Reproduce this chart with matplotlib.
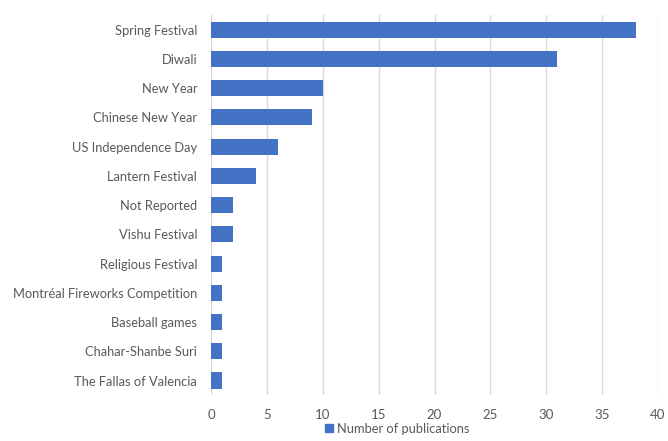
import matplotlib.pyplot as plt
from matplotlib.patches import Patch

events = ['Spring Festival', 'Diwali', 'New Year', 'Chinese New Year',
          'US Independence Day', 'Lantern Festival', 'Not Reported',
          'Vishu Festival', 'Religious Festival',
          'Montréal Fireworks Competition', 'Baseball games',
          'Chahar-Shanbe Suri', 'The Fallas of Valencia']
publications = [38, 31, 10, 9, 6, 4, 2, 2, 1, 1, 1, 1, 1]
xticks = [0, 5, 10, 15, 20, 25, 30, 35, 40]

plt.rcParams['font.family'] = ['Lato', 'DejaVu Sans']
txt = '#595959'
bar_color = '#4472C4'

fig = plt.figure(figsize=(6.68, 4.41), dpi=100)
ax = fig.add_axes([0.316, 0.104, 0.669, 0.862])

ypos = list(range(len(events)))
ax.barh(ypos, publications, height=0.55, color=bar_color, zorder=3)
ax.set_ylim(len(events) - 0.5, -0.5)
ax.set_xlim(0, 40)
ax.set_yticks(ypos)
ax.set_yticklabels(events, fontsize=9.3, color=txt)
ax.set_xticks(xticks)
ax.set_xticklabels([str(t) for t in xticks], fontsize=9.5, color=txt)
ax.tick_params(axis='both', length=0)
ax.tick_params(axis='y', pad=10)
ax.tick_params(axis='x', pad=10)
ax.grid(axis='x', color='#d9d9d9', lw=1, zorder=0)
for s in ax.spines.values():
    s.set_visible(False)

handle = Patch(color=bar_color, label='Number of publications')
fig.legend(handles=[handle], loc='lower center', bbox_to_anchor=(0.595, -0.012),
           frameon=False, fontsize=9.3, labelcolor=txt,
           handlelength=0.6, handleheight=0.6, handletextpad=0.3)

fig.savefig('out.png', dpi=100)
